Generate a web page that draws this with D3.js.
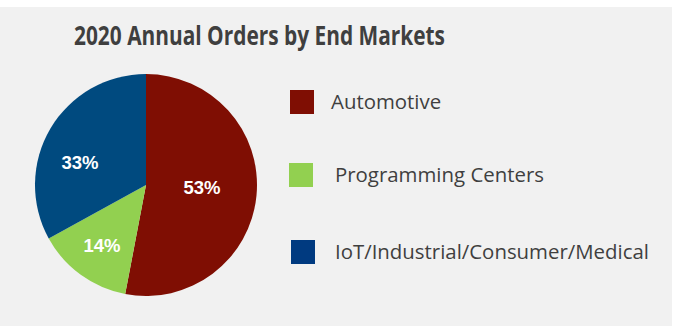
<!DOCTYPE html>
<html>
<head>
<meta charset="utf-8">
<script src="https://cdn.jsdelivr.net/npm/d3@7"></script>
<style>
html,body{margin:0;padding:0;background:#ffffff;}
svg{display:block;}
</style>
</head>
<body>
<svg id="chart" width="673" height="326"></svg>
<script>
const categories = ["Automotive", "Programming Centers", "IoT/Industrial/Consumer/Medical"];
const values = [53, 14, 33];
const pieColors = ["#7f0e03", "#92d050", "#004a7f"];
const legendColors = ["#7f0e03", "#92d050", "#003a80"];
const title = "2020 Annual Orders by End Markets";

const svg = d3.select("#chart");
svg.append("rect").attr("x", 0).attr("y", 7).attr("width", 672).attr("height", 319).attr("fill", "#f1f1f1");

svg.append("text")
  .attr("x", 74).attr("y", 45)
  .attr("font-family", "'Liberation Sans Narrow', 'Open Sans', sans-serif")
  .attr("font-weight", "bold")
  .attr("font-size", 27.5)
  .attr("textLength", 371)
  .attr("lengthAdjust", "spacingAndGlyphs")
  .attr("fill", "#3f3f3f")
  .text(title);

const cx = 146, cy = 185, r = 111;
const pie = d3.pie().sort(null).value(d => d);
const arcs = pie(values);
const arc = d3.arc().innerRadius(0).outerRadius(r);
const g = svg.append("g").attr("transform", `translate(${cx},${cy})`);
g.selectAll("path").data(arcs).join("path")
  .attr("d", arc)
  .attr("fill", (d, i) => pieColors[i]);

const labelPos = [[56, 9], [-44, 67], [-66, -16]];
g.selectAll("text.lbl").data(arcs).join("text")
  .attr("class", "lbl")
  .attr("x", (d, i) => labelPos[i][0])
  .attr("y", (d, i) => labelPos[i][1])
  .attr("text-anchor", "middle")
  .attr("font-family", "'Liberation Sans', Arial, sans-serif")
  .attr("font-weight", "bold")
  .attr("font-size", 18.5)
  .attr("fill", "#ffffff")
  .text(d => d.data + "%");

const legX = [290, 289, 291];
const legY = [90, 163, 240];
const txtX = [331, 335, 335];
const lg = svg.append("g");
categories.forEach((c, i) => {
  lg.append("rect").attr("x", legX[i]).attr("y", legY[i]).attr("width", 24).attr("height", 24).attr("fill", legendColors[i]);
  lg.append("text").attr("x", txtX[i]).attr("y", legY[i] + 18.5)
    .attr("font-family", "'Open Sans', sans-serif")
    .attr("font-size", 20.4)
    .attr("fill", "#3f3f3f")
    .text(c);
});
</script>
</body>
</html>
